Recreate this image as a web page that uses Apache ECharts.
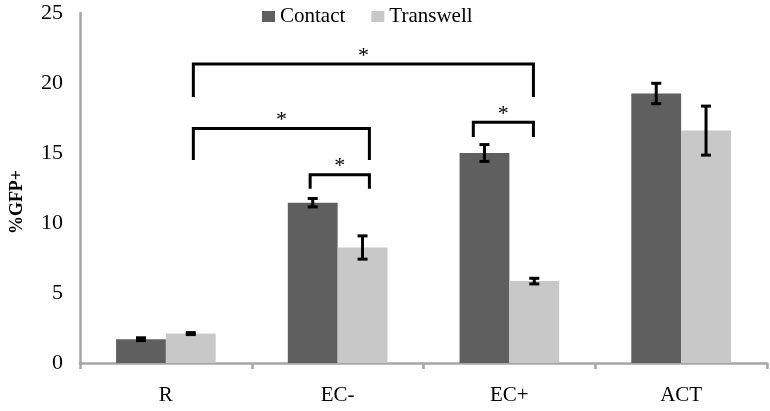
<!DOCTYPE html>
<html>
<head>
<meta charset="utf-8">
<script src="https://cdn.jsdelivr.net/npm/echarts@6/dist/echarts.min.js"></script>
<style>html,body{margin:0;padding:0;background:#fff}#c{width:770px;height:411px}</style>
</head>
<body>
<div id="c"></div>
<script>
var categories = ['R', 'EC-', 'EC+', 'ACT'];
var contactValues = [1.7, 11.45, 15.0, 19.25];
var contactErrors = [0.1, 0.3, 0.6, 0.73];
var transwellValues = [2.1, 8.25, 5.85, 16.6];
var transwellErrors = [0.07, 0.83, 0.2, 1.75];
var yTicks = [0, 5, 10, 15, 20, 25];
// brackets: [xLeft, xRight, yTop, yLeftEnd, yRightEnd] in category units / %GFP+
var brackets = [
  [0.16, 2.14, 21.35, 19.0, 19.0],
  [0.16, 1.185, 16.75, 14.5, 14.5],
  [0.84, 1.185, 13.45, 12.45, 12.45],
  [1.79, 2.14, 17.2, 16.15, 16.15]
];
var starLabel = '*';

var chart = echarts.init(document.getElementById('c'));
var serif = '"Liberation Serif", "DejaVu Serif", serif';

function errRender(values, errors, sign) {
  return function (params, api) {
    var i = api.value(0);
    var band = api.size([1, 0])[0];
    var c = api.coord([i, values[i]]);
    var x = c[0] + sign * band * 0.145;
    var hi = api.coord([i, values[i] + errors[i]])[1];
    var lo = api.coord([i, values[i] - errors[i]])[1];
    var st = { stroke: '#000', lineWidth: 3 };
    return { type: 'group', children: [
      { type: 'line', shape: { x1: x, y1: hi, x2: x, y2: lo }, style: st },
      { type: 'line', shape: { x1: x - 5, y1: hi, x2: x + 5, y2: hi }, style: st },
      { type: 'line', shape: { x1: x - 5, y1: lo, x2: x + 5, y2: lo }, style: st }
    ] };
  };
}

var option = {
  animation: false,
  backgroundColor: '#fff',
  textStyle: { fontFamily: serif },
  legend: {
    top: 1, left: 257,
    itemWidth: 13, itemHeight: 11, itemGap: 26,
    icon: 'rect',
    textStyle: { fontFamily: serif, fontSize: 21, color: '#000' },
    data: ['Contact', 'Transwell']
  },
  grid: { left: 77, right: 3, top: 13, bottom: 48, containLabel: false },
  xAxis: [{
    type: 'category', data: categories,
    axisLine: { lineStyle: { color: '#a6a6a6', width: 2.5 } },
    axisTick: { show: true, length: 6, lineStyle: { color: '#a6a6a6', width: 2.5 } },
    axisLabel: { fontFamily: serif, fontSize: 21, color: '#000', margin: 22 }
  }, {
    type: 'value', min: -0.5, max: 3.5, show: false
  }],
  yAxis: {
    type: 'value', min: 0, max: 25, interval: 5,
    name: '%GFP+', nameLocation: 'middle', nameGap: 54, nameRotate: 90,
    nameTextStyle: { fontFamily: serif, fontSize: 18, fontWeight: 'bold', color: '#000', padding: [0, 0, 0, -28] },
    axisLine: { show: true, onZero: false, lineStyle: { color: '#a6a6a6', width: 2.5 } },
    axisTick: { show: false },
    splitLine: { show: false },
    axisLabel: { fontFamily: serif, fontSize: 22, color: '#000', margin: 17,
      formatter: function (v) { return yTicks.indexOf(v) >= 0 ? String(v) : ''; } }
  },
  series: [{
    name: 'Contact', type: 'bar', data: contactValues,
    barWidth: '29%', barGap: '0%',
    itemStyle: { color: '#5f5f5f' }
  }, {
    name: 'Transwell', type: 'bar', data: transwellValues,
    barWidth: '29%', barGap: '0%',
    itemStyle: { color: '#c8c8c8' }
  }, {
    type: 'custom', data: categories.map(function (c, i) { return [i]; }),
    renderItem: errRender(contactValues, contactErrors, -1), z: 5
  }, {
    type: 'custom', data: categories.map(function (c, i) { return [i]; }),
    renderItem: errRender(transwellValues, transwellErrors, 1), z: 5
  }, {
    type: 'custom', xAxisIndex: 1, data: brackets,
    renderItem: function (params, api) {
      var b = brackets[params.dataIndex];
      var l = api.coord([b[0], b[3]]);
      var tl = api.coord([b[0], b[2]]);
      var tr = api.coord([b[1], b[2]]);
      var r = api.coord([b[1], b[4]]);
      return { type: 'group', children: [
        { type: 'polyline', shape: { points: [l, tl, tr, r] },
          style: { stroke: '#000', lineWidth: 3, fill: null } },
        { type: 'text', x: (tl[0] + tr[0]) / 2, y: tl[1] + 3,
          style: { text: starLabel, font: '22px ' + serif, fill: '#000',
                   align: 'center', verticalAlign: 'bottom' } }
      ] };
    }, z: 6
  }]
};
chart.setOption(option);
</script>
</body>
</html>
